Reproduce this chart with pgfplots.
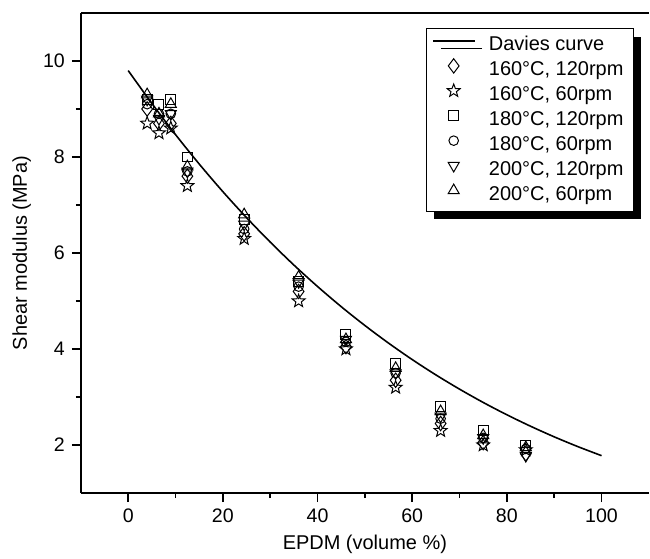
\documentclass[border=0pt]{standalone}
\usepackage{pgfplots}
\pgfplotsset{compat=1.18}
\usepackage{fontspec}
\setmainfont{Liberation Sans}
\usetikzlibrary{shadows}

% open five-pointed star
\pgfdeclareplotmark{ostar}{%
  \pgfpathmoveto{\pgfpointpolar{90}{\pgfplotmarksize}}%
  \pgfpathlineto{\pgfpointpolar{126}{0.42\pgfplotmarksize}}%
  \pgfpathlineto{\pgfpointpolar{162}{\pgfplotmarksize}}%
  \pgfpathlineto{\pgfpointpolar{198}{0.42\pgfplotmarksize}}%
  \pgfpathlineto{\pgfpointpolar{234}{\pgfplotmarksize}}%
  \pgfpathlineto{\pgfpointpolar{270}{0.42\pgfplotmarksize}}%
  \pgfpathlineto{\pgfpointpolar{306}{\pgfplotmarksize}}%
  \pgfpathlineto{\pgfpointpolar{342}{0.42\pgfplotmarksize}}%
  \pgfpathlineto{\pgfpointpolar{18}{\pgfplotmarksize}}%
  \pgfpathlineto{\pgfpointpolar{54}{0.42\pgfplotmarksize}}%
  \pgfpathclose\pgfusepathqstroke}

\pgfplotstableread{
x     d160a  s160b  q180a  c180b  v200a  t200b
4     9.00   8.70   9.20   9.10   9.20   9.30
6.5   8.70   8.50   9.10   8.90   8.80   8.90
9     8.70   8.60   9.20   8.90   8.90   9.10
12.5  7.60   7.40   8.00   7.70   7.70   7.80
24.5  6.40   6.30   6.70   6.50   6.60   6.80
36    5.20   5.00   5.40   5.30   5.40   5.50
46    4.05   4.00   4.30   4.15   4.20   4.20
56.5  3.35   3.20   3.70   3.50   3.50   3.60
66    2.45   2.30   2.80   2.55   2.60   2.70
75    2.05   2.00   2.30   2.15   2.15   2.20
84    1.82   1.90   2.00   1.92   1.78   1.95
}\shear

\begin{document}
\begin{tikzpicture}
\begin{axis}[
  scale only axis,
  width=284.5pt, height=240.5pt,
  xmin=-10, xmax=110, ymin=1, ymax=11,
  axis x line=box, axis y line*=left,
  axis line style={line width=1pt},
  xtick={0,20,...,100}, minor xtick={10,30,...,90},
  ytick={2,4,...,10}, minor ytick={3,5,...,9},
  tick align=outside,
  major tick length=4.5pt, minor tick length=2.5pt,
  every tick/.style={black, line width=0.8pt},
  xtick pos=bottom, ytick pos=left,
  /pgf/number format/assume math mode=true,
  ticklabel style={font=\fontsize{9.8}{11}\selectfont},
  xlabel={EPDM (volume \%)},
  ylabel={Shear modulus (MPa)},
  xlabel style={font=\fontsize{11.5}{13}\selectfont},
  ylabel style={font=\fontsize{14}{16}\selectfont},
  every axis x label/.style={at={(axis description cs:0.5,-0.106)}, anchor=center},
  every axis y label/.style={at={(axis description cs:-0.104,0.5)}, anchor=center, rotate=90},
  mark size=2.8pt,
  legend image code/.code={\draw[mark repeat=2, mark phase=2, #1]
    plot coordinates {(0cm,0.08cm) (0.36cm,0.08cm) (0.72cm,0.08cm)};},
  legend style={at={(0.974,0.969)}, anchor=north east,
    draw=black, line width=0.7pt, fill=white,
    drop shadow={shadow xshift=4pt, shadow yshift=-4pt, opacity=1, fill=black},
    font=\fontsize{10}{12}\selectfont, row sep=0pt,
    inner xsep=3pt, inner ysep=2pt,
    /tikz/every odd column/.append style={column sep=5pt},
    cells={anchor=west}},
]
\addplot[black, line width=0.8pt, smooth] coordinates {
 (0,9.80) (5,9.115) (10,8.466) (15,7.854) (20,7.278) (25,6.737) (30,6.228)
 (35,5.750) (40,5.303) (45,4.883) (50,4.491) (55,4.124) (60,3.781)
 (65,3.462) (70,3.165) (75,2.888) (80,2.631) (85,2.393) (90,2.172)
 (95,1.968) (100,1.780)};
\addlegendentry{Davies curve}
\addplot[black, only marks, line width=0.5pt, mark=diamond, mark size=3.6pt] table[x=x, y=d160a] {\shear};
\addlegendentry{160°C, 120rpm}
\addplot[black, only marks, line width=0.5pt, mark=ostar, mark size=3.4pt] table[x=x, y=s160b] {\shear};
\addlegendentry{160°C, 60rpm}
\addplot[black, only marks, line width=0.5pt, mark=square, mark size=2.5pt] table[x=x, y=q180a] {\shear};
\addlegendentry{180°C, 120rpm}
\addplot[black, only marks, line width=0.5pt, mark=o, mark size=2.4pt] table[x=x, y=c180b] {\shear};
\addlegendentry{180°C, 60rpm}
\addplot[black, only marks, line width=0.5pt, mark=triangle, mark size=3.2pt, mark options={rotate=180}] table[x=x, y=v200a] {\shear};
\addlegendentry{200°C, 120rpm}
\addplot[black, only marks, line width=0.5pt, mark=triangle, mark size=3.2pt] table[x=x, y=t200b] {\shear};
\addlegendentry{200°C, 60rpm}
\coordinate (bl) at (rel axis cs:-0.1424,-0.1352);
\coordinate (tr) at (rel axis cs:1.002,1.027);
\end{axis}
\pgfresetboundingbox
\path (bl) rectangle (tr);
\end{tikzpicture}
\end{document}
